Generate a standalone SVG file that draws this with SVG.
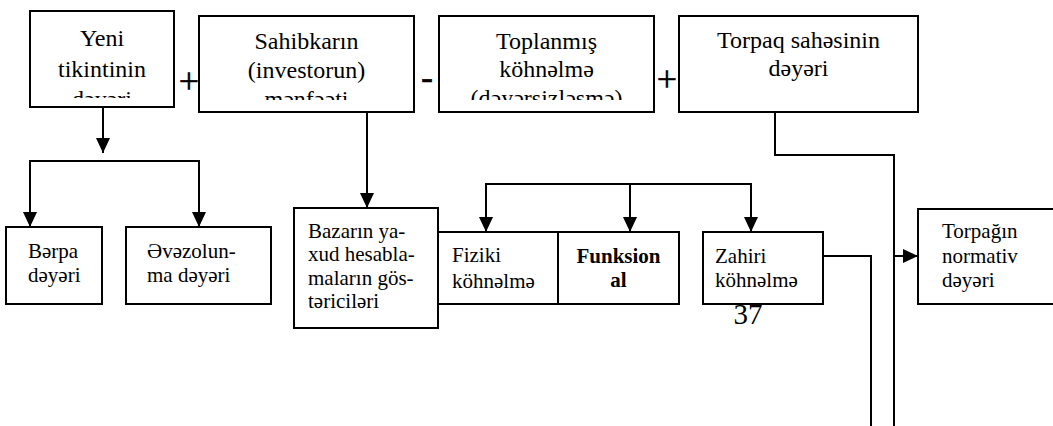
<svg xmlns="http://www.w3.org/2000/svg" width="1053" height="426" viewBox="0 0 1053 426" font-family="Liberation Serif, DejaVu Serif, Times New Roman, serif">
  <style>
    .box { fill: #ffffff; stroke: #000000; stroke-width: 2; }
    .wire { fill: none; stroke: #000000; stroke-width: 2; }
    .big { font-size: 24px; fill: #000000; }
    .sm { font-size: 21px; fill: #000000; }
    .bold { font-weight: bold; }
    .op { font-size: 36px; fill: #000000; stroke: #000000; stroke-width: 0.5; text-anchor: middle; }
    .mid { text-anchor: middle; }
  </style>
  <defs>
    <marker id="arrow" viewBox="0 0 15 14" refX="15" refY="7" markerWidth="15" markerHeight="14" markerUnits="userSpaceOnUse" orient="auto">
      <path d="M0,0 L15,7 L0,14 Z" fill="#000000"/>
    </marker>
    <clipPath id="clipYeni"><rect x="31" y="12" width="142" height="86"/></clipPath>
    <clipPath id="clipSahib"><rect x="200" y="17" width="213" height="83"/></clipPath>
    <clipPath id="clipTopl"><rect x="440" y="17" width="213" height="83"/></clipPath>
  </defs>

  <!-- connectors -->
  <g id="connectors">
    <path class="wire" d="M103,107 V153" marker-end="url(#arrow)"/>
    <path class="wire" d="M30,227 V161 H199 V227"/>
    <path class="wire" d="M30,161 V227" marker-end="url(#arrow)"/>
    <path class="wire" d="M199,161 V227" marker-end="url(#arrow)"/>
    <path class="wire" d="M367,112 V208" marker-end="url(#arrow)"/>
    <path class="wire" d="M486,232 V184 H751 V232"/>
    <path class="wire" d="M486,184 V232" marker-end="url(#arrow)"/>
    <path class="wire" d="M630,184 V232" marker-end="url(#arrow)"/>
    <path class="wire" d="M751,184 V232" marker-end="url(#arrow)"/>
    <path class="wire" d="M775,112 V155 H894 V426"/>
    <path class="wire" d="M894,256 H918" marker-end="url(#arrow)"/>
    <path class="wire" d="M823,256 H871 V426"/>
  </g>

  <!-- top row -->
  <g id="yeni">
    <rect class="box" x="30" y="11" width="144" height="96"/>
    <g clip-path="url(#clipYeni)">
      <text class="big mid" x="102" y="46">Yeni</text>
      <text class="big mid" x="102" y="77">tikintinin</text>
      <text class="big mid" x="102" y="107">dəyəri</text>
    </g>
  </g>
  <text class="op" x="189" y="93">+</text>
  <g id="sahibkar">
    <rect class="box" x="199" y="16" width="215" height="96"/>
    <g clip-path="url(#clipSahib)">
      <text class="big mid" x="306.5" y="49">Sahibkarın</text>
      <text class="big mid" x="306.5" y="78">(investorun)</text>
      <text class="big mid" x="306.5" y="107">mənfəəti</text>
    </g>
  </g>
  <text class="op" x="427" y="89">-</text>
  <g id="toplanmis">
    <rect class="box" x="439" y="16" width="215" height="96"/>
    <g clip-path="url(#clipTopl)">
      <text class="big mid" x="546.5" y="49">Toplanmış</text>
      <text class="big mid" x="546.5" y="77">köhnəlmə</text>
      <text class="big mid" x="546.5" y="106">(dəyərsizləşmə)</text>
    </g>
  </g>
  <text class="op" x="667" y="91">+</text>
  <g id="torpaq">
    <rect class="box" x="679" y="16" width="239" height="96"/>
    <text class="big mid" x="798.5" y="48">Torpaq sahəsinin</text>
    <text class="big mid" x="798.5" y="76">dəyəri</text>
  </g>

  <!-- lower row -->
  <g id="berpa">
    <rect class="box" x="6" y="227" width="96" height="77"/>
    <text class="sm" x="28" y="258">Bərpa</text>
    <text class="sm" x="28" y="282">dəyəri</text>
  </g>
  <g id="evezolunma">
    <rect class="box" x="126" y="227" width="145" height="77"/>
    <text class="sm" x="147" y="258">Əvəzolun-</text>
    <text class="sm" x="147" y="282">ma dəyəri</text>
  </g>
  <g id="bazar">
    <rect class="box" x="294" y="208" width="144" height="120"/>
    <text class="sm" x="308" y="238">Bazarın ya-</text>
    <text class="sm" x="308" y="261">xud hesabla-</text>
    <text class="sm" x="308" y="285">maların gös-</text>
    <text class="sm" x="308" y="308">təriciləri</text>
  </g>
  <g id="fiziki">
    <rect class="box" x="438" y="232" width="120" height="72"/>
    <text class="sm" x="452" y="262">Fiziki</text>
    <text class="sm" x="452" y="288">köhnəlmə</text>
  </g>
  <g id="funksional">
    <rect class="box" x="558" y="232" width="121" height="72"/>
    <text class="sm bold mid" x="618.5" y="263">Funksion</text>
    <text class="sm bold mid" x="618.5" y="287">al</text>
  </g>
  <g id="zahiri">
    <rect class="box" x="703" y="232" width="120" height="72"/>
    <text class="sm" x="715" y="263">Zahiri</text>
    <text class="sm" x="715" y="287">köhnəlmə</text>
  </g>
  <g id="normativ">
    <rect class="box" x="918" y="209" width="150" height="95"/>
    <text class="sm" x="942" y="238">Torpağın</text>
    <text class="sm" x="942" y="263">normativ</text>
    <text class="sm" x="942" y="287">dəyəri</text>
  </g>

  <!-- page number -->
  <text x="748" y="324" font-size="29" text-anchor="middle" fill="#000000">37</text>
</svg>
